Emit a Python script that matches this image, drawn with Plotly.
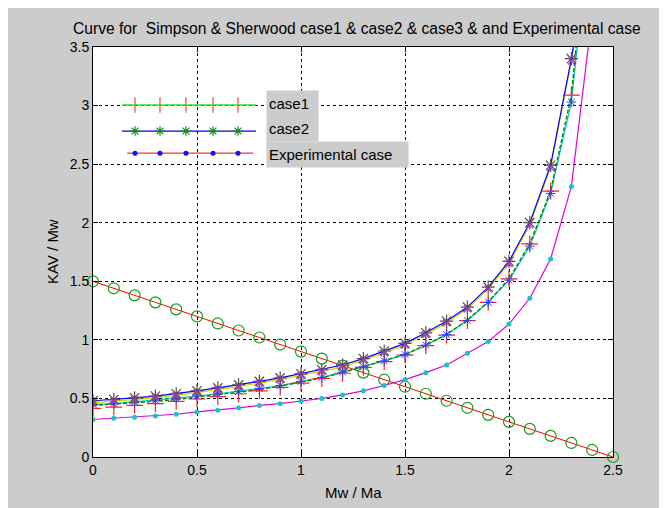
import plotly.graph_objects as go

# ---------------- data ----------------
x_pts = [0.0, 0.1, 0.2, 0.3, 0.4, 0.5, 0.6, 0.7, 0.8, 0.9, 1.0, 1.1, 1.2,
         1.3, 1.4, 1.5, 1.6, 1.7, 1.8, 1.9, 2.0, 2.1, 2.2, 2.3, 2.4]

# upper pair of curves
blue_line = [0.48, 0.49, 0.505, 0.52, 0.54, 0.565, 0.59, 0.615, 0.645, 0.675, 0.71,
             0.745, 0.785, 0.84, 0.905, 0.97, 1.06, 1.16, 1.28, 1.45, 1.67, 2.00,
             2.49, 3.40, 4.50]
yellow_line = [0.465, 0.475, 0.49, 0.505, 0.525, 0.55, 0.575, 0.60, 0.63, 0.66, 0.695,
               0.73, 0.77, 0.825, 0.89, 0.955, 1.045, 1.145, 1.265, 1.435, 1.65, 1.98,
               2.47, 3.38, 4.48]
# lower pair of curves
green_line = [0.44, 0.45, 0.46, 0.475, 0.49, 0.51, 0.53, 0.55, 0.575, 0.605, 0.64,
              0.675, 0.72, 0.77, 0.82, 0.875, 0.955, 1.045, 1.17, 1.325, 1.52, 1.82,
              2.27, 3.09, 4.90]
cyan_line = [0.45, 0.455, 0.47, 0.485, 0.50, 0.52, 0.54, 0.56, 0.585, 0.61, 0.645,
             0.68, 0.725, 0.77, 0.82, 0.875, 0.955, 1.045, 1.165, 1.32, 1.51, 1.80,
             2.25, 3.03, 4.70]
red_plus = [0.415, 0.425, 0.44, 0.455, 0.475, 0.495, 0.515, 0.54, 0.565, 0.595, 0.63,
            0.67, 0.715, 0.765, 0.815, 0.87, 0.95, 1.04, 1.165, 1.32, 1.52, 1.82,
            2.27, 3.09, 4.90]
# lowest curve
magenta_line = [0.32, 0.33, 0.34, 0.35, 0.365, 0.385, 0.40, 0.42, 0.44, 0.455, 0.478,
                0.50, 0.53, 0.565, 0.61, 0.66, 0.72, 0.785, 0.885, 0.985, 1.135, 1.355,
                1.69, 2.31, 3.78]
# straight decreasing line with circles
x_circ = [0.0, 0.1, 0.2, 0.3, 0.4, 0.5, 0.6, 0.7, 0.8, 0.9, 1.0, 1.1, 1.2, 1.3,
          1.4, 1.5, 1.6, 1.7, 1.8, 1.9, 2.0, 2.1, 2.2, 2.3, 2.4, 2.5]
y_circ = [1.5, 1.44, 1.38, 1.32, 1.26, 1.2, 1.14, 1.08, 1.02, 0.96, 0.9, 0.84, 0.78,
          0.72, 0.66, 0.6, 0.54, 0.48, 0.42, 0.36, 0.3, 0.24, 0.18, 0.12, 0.06, 0.0]

x_ticks = [0, 0.5, 1, 1.5, 2, 2.5]
x_tick_text = ["0", "0.5", "1", "1.5", "2", "2.5"]
y_ticks = [0, 0.5, 1, 1.5, 2, 2.5, 3, 3.5]
y_tick_text = ["0", "0.5", "1", "1.5", "2", "2.5", "3", "3.5"]

legend_names = ["case1", "case2", "Experimental case"]
title_text = "Curve for \u00a0Simpson & Sherwood case1 & case2 & case3 & and Experimental case"
x_title = "Mw / Ma"
y_title = "KAV / Mw"

# ---------------- styles ----------------
FONT = "Liberation Sans, Arial, sans-serif"
GREY = "#cccccc"

fig = go.Figure()

def add(x, y, **kw):
    fig.add_trace(go.Scatter(x=x, y=y, showlegend=False, hoverinfo="skip", **kw))

# decreasing line with circles
add(x_circ, y_circ, mode="lines", line=dict(color="#ff0000", width=1))
add(x_circ, y_circ, mode="markers", cliponaxis=False,
    marker=dict(symbol="circle-open", size=11, color="#1a9a1a", line=dict(width=1.2)))

# magenta with cyan dots
add(x_pts, magenta_line, mode="lines", line=dict(color="#e000e0", width=1.2))
add(x_pts, magenta_line, mode="markers",
    marker=dict(symbol="circle", size=5, color="#10c8c8"))

# lower pair
add(x_pts, cyan_line, mode="lines", line=dict(color="#00c8c8", width=1.2))
add(x_pts, green_line, mode="lines", line=dict(color="#008a00", width=1.4, dash="4px,2px"))
add(x_pts, red_plus, mode="markers",
    marker=dict(symbol="cross-thin-open", size=12, color="#ff2020", line=dict(width=1.2, color="#ff2020")))
add(x_pts, cyan_line, mode="markers",
    marker=dict(symbol="asterisk-open", size=8, color="#3040ff", line=dict(width=1, color="#3040ff")))

# upper pair
add(x_pts, yellow_line, mode="lines", line=dict(color="#d8d800", width=1.2))
add(x_pts, blue_line, mode="lines", line=dict(color="#0000ff", width=1.2))
add(x_pts, blue_line, mode="markers",
    marker=dict(symbol="asterisk-open", size=11, color="#505050", line=dict(width=1.2, color="#505050")))
add(x_pts, yellow_line, mode="markers",
    marker=dict(symbol="x-thin-open", size=7, color="#b030d0", line=dict(width=1.2, color="#b030d0")))

# ---------------- hand-made legend on an overlay axis (0..1) ----------------
leg_x_line = [0.0558, 0.3135]
leg_x_mk = [0.0808, 0.1288, 0.1788, 0.2308, 0.2788]
leg_y = [0.8585, 0.795, 0.741]

def add2(x, y, **kw):
    fig.add_trace(go.Scatter(x=x, y=y, xaxis="x2", yaxis="y2", showlegend=False,
                             hoverinfo="skip", **kw))

# case1: red + with green line on top
add2(leg_x_mk, [leg_y[0]] * 5, mode="markers",
     marker=dict(symbol="line-ns-open", size=11, color="#ff4040", line=dict(width=1.2, color="#ff4040")))
add2(leg_x_line, [leg_y[0]] * 2, mode="lines", line=dict(color="#30e030", width=1.3))
# case2: blue line with green stars
add2(leg_x_line, [leg_y[1]] * 2, mode="lines", line=dict(color="#0000ff", width=1.3))
add2(leg_x_mk, [leg_y[1]] * 5, mode="markers",
     marker=dict(symbol="asterisk-open", size=8, color="#1a8a1a", line=dict(width=1.2, color="#1a8a1a")))
# experimental: red line with blue dots
add2([leg_x_line[0] + 0.01, leg_x_line[1] - 0.005], [leg_y[2]] * 2, mode="lines",
     line=dict(color="#ff3030", width=1.3))
add2(leg_x_mk, [leg_y[2]] * 5, mode="markers",
     marker=dict(symbol="circle", size=5, color="#1010ff"))

annotations = []
box_y = [0.8622, 0.8012, 0.739]
box_w = [47, 47, 137]
for name, yy, ww in zip(legend_names, box_y, box_w):
    annotations.append(dict(text=name, xref="paper", yref="paper", x=0.3327, y=yy,
                            xanchor="left", yanchor="middle", showarrow=False,
                            bgcolor=GREY, borderpad=2, width=ww, height=21, align="left",
                            font=dict(family=FONT, size=15, color="#000000")))

annotations.append(dict(text=x_title, xref="paper", yref="paper", x=0.5, y=-0.0854,
                        xanchor="center", yanchor="middle", showarrow=False,
                        font=dict(family=FONT, size=15, color="#000000")))
annotations.append(dict(text=y_title, xref="paper", yref="paper", x=-0.0788, y=0.5,
                        xanchor="center", yanchor="middle", showarrow=False, textangle=-90,
                        font=dict(family=FONT, size=15, color="#000000")))
annotations.append(dict(text=title_text, xref="paper", yref="paper", x=0.508, y=1.046,
                        xanchor="center", yanchor="middle", showarrow=False,
                        font=dict(family=FONT, size=15.6, color="#000000")))

axis_common = dict(showline=True, linecolor="#000000", linewidth=1, mirror="ticks",
                   ticks="inside", ticklen=5, tickcolor="#000000",
                   showgrid=True, gridcolor="#000000", gridwidth=1, griddash="3px,3px",
                   zeroline=False, tickfont=dict(family=FONT, size=14, color="#000000"))

# thin white strip at the right edge of the figure
shapes = [
    dict(type="rect", xref="paper", yref="paper", x0=1.0942, x1=1.3, y0=-0.3, y1=1.3,
         fillcolor="white", line=dict(width=0), layer="above"),
]

# the page body adds an 8px margin, so the figure is 8px smaller than the window
fig.update_layout(
    width=659, height=500, autosize=False,
    margin=dict(l=85, r=54, t=39, b=51, pad=0),
    paper_bgcolor=GREY, plot_bgcolor="#ffffff",
    showlegend=False,
    xaxis=dict(range=[0, 2.5], tickvals=x_ticks, ticktext=x_tick_text, **axis_common),
    yaxis=dict(range=[0, 3.5], tickvals=y_ticks, ticktext=y_tick_text, **axis_common),
    xaxis2=dict(overlaying="x", range=[0, 1], visible=False, fixedrange=True),
    yaxis2=dict(overlaying="y", range=[0, 1], visible=False, fixedrange=True),
    annotations=annotations,
    shapes=shapes,
    font=dict(family=FONT, color="#000000"),
)

fig.write_html("out.html")
